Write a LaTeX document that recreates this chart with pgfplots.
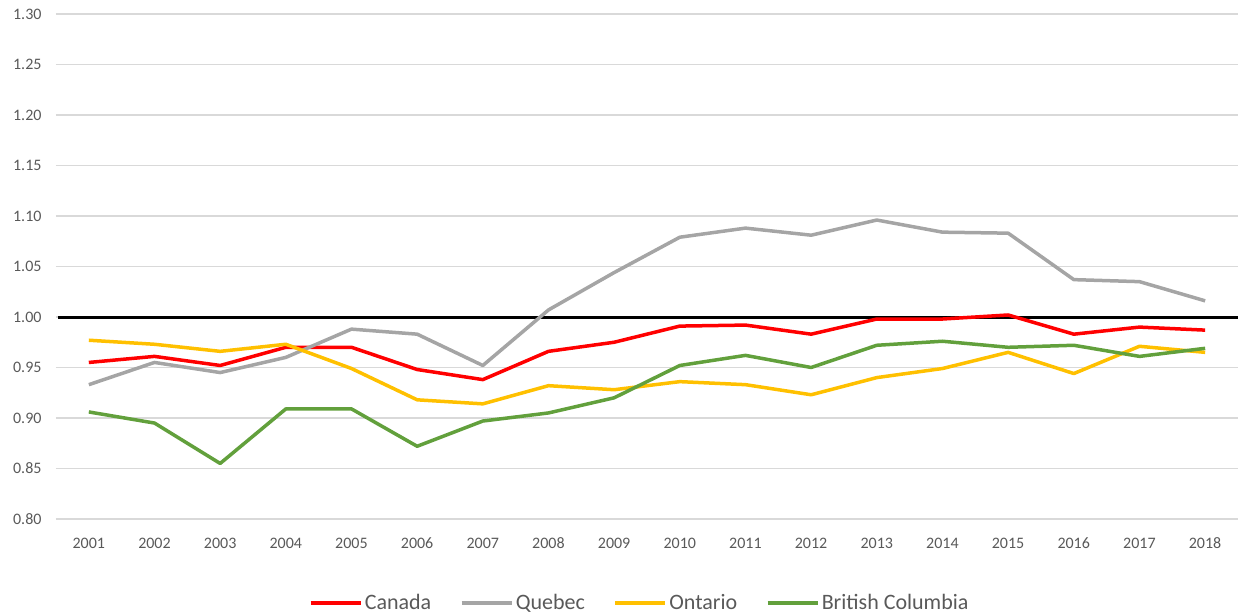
\documentclass[border=0pt]{standalone}
\usepackage{fontspec}
\setmainfont{Carlito}
\usepackage{pgfplots}
\pgfplotsset{compat=1.18}

\definecolor{canred}{HTML}{FF0000}
\definecolor{quegray}{HTML}{A5A5A5}
\definecolor{ontgold}{HTML}{FFC000}
\definecolor{bcgreen}{HTML}{62A03C}
\definecolor{gridgray}{HTML}{D9D9D9}
\definecolor{labgray}{HTML}{595959}

\begin{document}
\begin{tikzpicture}
\path[use as bounding box] (-56bp,-97bp) rectangle (1182bp,519bp);
\begin{axis}[
  at={(0,0)}, anchor=south west,
  scale only axis,
  width=1182bp, height=505bp,
  xmin=2000.5, xmax=2018.5,
  ymin=0.8, ymax=1.3,
  xtick={2001,...,2018},
  xticklabel style={/pgf/number format/1000 sep={}, text height=10bp, text depth=0bp},
  ytick={0.80,0.85,...,1.31},
  yticklabel style={/pgf/number format/.cd, fixed, fixed zerofill, precision=2},
  /pgf/number format/assume math mode=true,
  major tick length=0pt,
  axis line style={draw=none},
  ymajorgrids, grid style={gridgray, line width=1.3bp},
  tick label style={font=\fontsize{16bp}{18bp}\selectfont, text=labgray},
  xticklabel shift=16bp,
  yticklabel shift=11bp,
  legend style={at={(0.494,-0.166)}, anchor=center, draw=none, fill=none,
    font=\fontsize{22bp}{26bp}\selectfont, text=labgray, legend columns=4,
    nodes={inner xsep=2.5bp},
    /tikz/every even column/.append style={column sep=26bp}},
  legend image code/.code={\draw[#1] (0bp,0bp) -- (50bp,0bp);},
  every axis plot/.append style={line width=3.5bp, line join=round},
  clip=false,
]
\addplot[black, line width=3bp, forget plot] coordinates {(2000.53,1.0) (2018.5,1.0)};

\addplot[canred] coordinates {
(2001,0.955) (2002,0.961) (2003,0.952) (2004,0.970) (2005,0.970) (2006,0.948)
(2007,0.938) (2008,0.966) (2009,0.975) (2010,0.991) (2011,0.992) (2012,0.983)
(2013,0.998) (2014,0.998) (2015,1.002) (2016,0.983) (2017,0.990) (2018,0.987)};
\addlegendentry{Canada}

\addplot[quegray] coordinates {
(2001,0.933) (2002,0.955) (2003,0.945) (2004,0.960) (2005,0.988) (2006,0.983)
(2007,0.952) (2008,1.007) (2009,1.044) (2010,1.079) (2011,1.088) (2012,1.081)
(2013,1.096) (2014,1.084) (2015,1.083) (2016,1.037) (2017,1.035) (2018,1.016)};
\addlegendentry{Quebec}

\addplot[ontgold] coordinates {
(2001,0.977) (2002,0.973) (2003,0.966) (2004,0.973) (2005,0.949) (2006,0.918)
(2007,0.914) (2008,0.932) (2009,0.928) (2010,0.936) (2011,0.933) (2012,0.923)
(2013,0.940) (2014,0.949) (2015,0.965) (2016,0.944) (2017,0.971) (2018,0.965)};
\addlegendentry{Ontario}

\addplot[bcgreen] coordinates {
(2001,0.906) (2002,0.895) (2003,0.855) (2004,0.909) (2005,0.909) (2006,0.872)
(2007,0.897) (2008,0.905) (2009,0.920) (2010,0.952) (2011,0.962) (2012,0.950)
(2013,0.972) (2014,0.976) (2015,0.970) (2016,0.972) (2017,0.961) (2018,0.969)};
\addlegendentry{British Columbia}
\end{axis}
\end{tikzpicture}
\end{document}
